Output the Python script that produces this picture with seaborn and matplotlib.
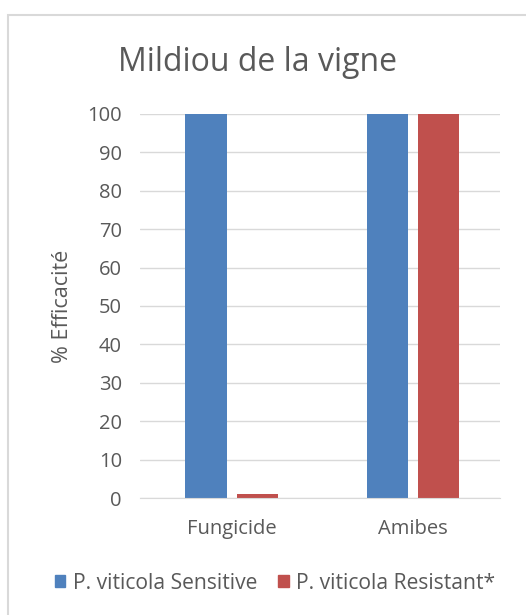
import matplotlib
matplotlib.use("Agg")
import matplotlib.pyplot as plt
import matplotlib.patches as mpatches
import seaborn as sns
import pandas as pd

# Data
categories = ["Fungicide", "Amibes"]
series = ["P. viticola Sensitive", "P. viticola Resistant*"]
sensitive = [100, 100]
resistant = [1, 100]
yticks = [0, 10, 20, 30, 40, 50, 60, 70, 80, 90, 100]

df = pd.DataFrame({
    "cat": categories * 2,
    "serie": [series[0]] * 2 + [series[1]] * 2,
    "val": sensitive + resistant,
})

sns.set_style("white")
plt.rcParams["font.family"] = ["Open Sans", "DejaVu Sans"]
grey = "#595959"

fig = plt.figure(figsize=(5.26, 6.15), dpi=100)
ax = fig.add_axes([0.266, 0.190, 0.685, 0.625])

sns.barplot(data=df, x="cat", y="val", hue="serie", order=categories,
            hue_order=series, palette=["#4F81BD", "#C0504D"],
            width=0.57, gap=0.2, ax=ax, legend=False, saturation=1,
            linewidth=0)

ax.set_ylim(0, 100)
ax.set_xlim(-0.508, 1.482)
ax.set_yticks(yticks)
ax.yaxis.grid(True, color="#D9D9D9", linewidth=1)
ax.set_axisbelow(True)
for s in ["top", "right", "left"]:
    ax.spines[s].set_visible(False)
ax.spines["bottom"].set_color("#D9D9D9")
ax.tick_params(length=0, labelsize=14.5, labelcolor=grey, pad=13)
ax.tick_params(axis="x", pad=15)
ax.set_xlabel("")
ax.set_ylabel("% Efficacité", fontsize=15.5, color=grey, labelpad=10)

fig.text(0.49, 0.898, "Mildiou de la vigne", ha="center", va="center",
         fontsize=23, color=grey)

handles = [mpatches.Patch(color=c, label=l) for c, l in zip(["#4F81BD", "#C0504D"], series)]
fig.legend(handles=handles, loc="center", bbox_to_anchor=(0.523, 0.052), ncol=2,
           frameon=False, fontsize=15.2, labelcolor=grey, handlelength=0.5,
           handleheight=0.5, handletextpad=0.35, columnspacing=1.0)

# chart border
fig.patches.append(mpatches.Rectangle((8 / 526, -0.1), 1.2, 1 - 15 / 615 + 0.1,
                                      transform=fig.transFigure, fill=False,
                                      edgecolor="#D9D9D9", linewidth=1.5))

fig.savefig("out.png", dpi=100)
